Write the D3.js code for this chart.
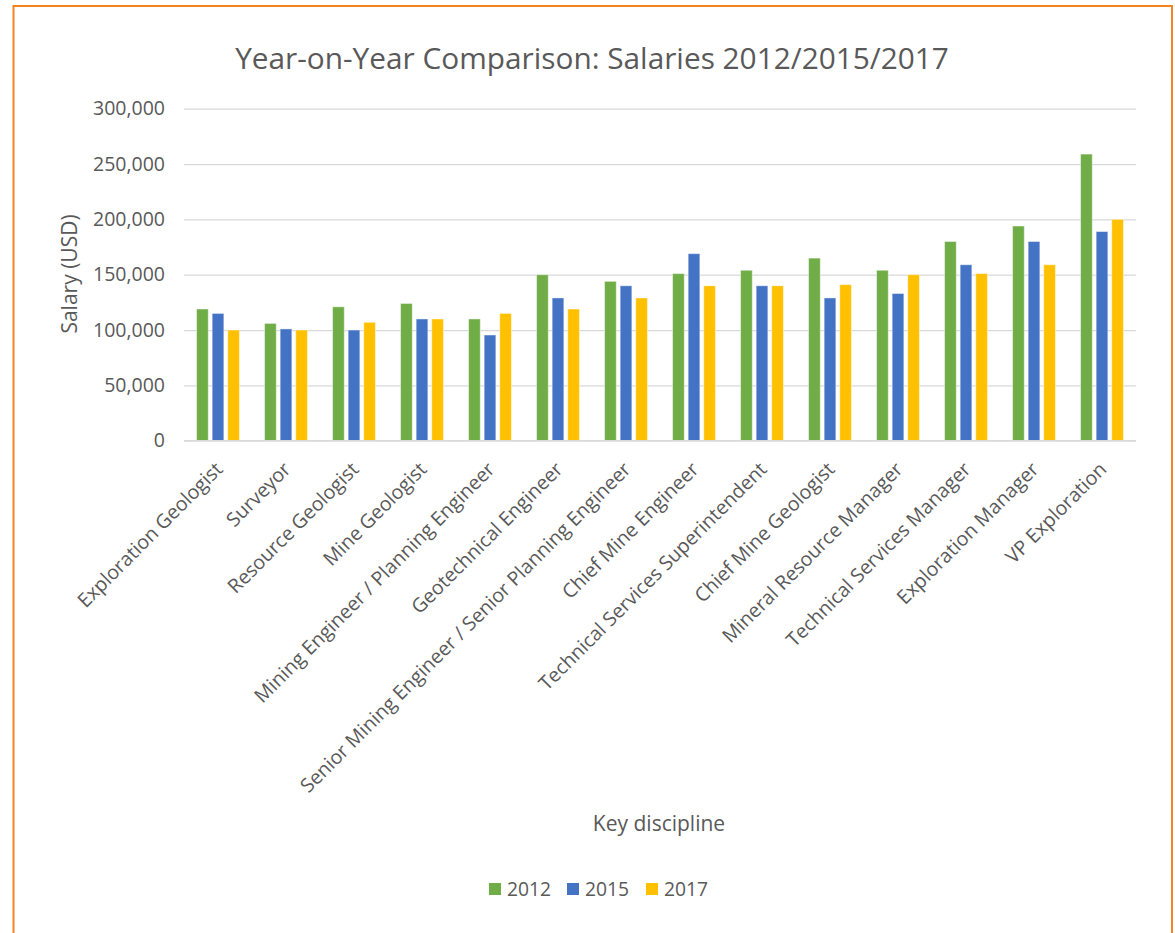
<!DOCTYPE html>
<html>
<head>
<meta charset="utf-8">
<script src="https://cdn.jsdelivr.net/npm/d3@7"></script>
<style>
  html, body { margin: 0; padding: 0; background: #fff; }
  svg { display: block; font-family: "Open Sans", "Noto Sans", sans-serif; }
</style>
</head>
<body>
<svg id="chart" width="1175" height="933"></svg>
<script>
// Key disciplines along the x axis
const categories = [
  "Exploration Geologist", "Surveyor", "Resource Geologist", "Mine Geologist",
  "Mining Engineer / Planning Engineer", "Geotechnical Engineer",
  "Senior Mining Engineer / Senior Planning Engineer", "Chief Mine Engineer",
  "Technical Services Superintendent", "Chief Mine Geologist",
  "Mineral Resource Manager", "Technical Services Manager",
  "Exploration Manager", "VP Exploration"
];

// Salaries (USD) per year
const salaries2012 = [119000, 106000, 121000, 124000, 110000, 150000, 144000, 151000, 154000, 165000, 154000, 180000, 194000, 259000];
const salaries2015 = [115000, 101000, 100000, 110000, 95500, 129000, 140000, 169000, 140000, 129000, 133000, 159000, 180000, 189000];
const salaries2017 = [100000, 100000, 107000, 110000, 115000, 119000, 129000, 140000, 140000, 141000, 150000, 151000, 159000, 200000];

const years = ["2012", "2015", "2017"];
const seriesValues = [salaries2012, salaries2015, salaries2017];
const yTicks = [0, 50000, 100000, 150000, 200000, 250000, 300000];

const colors = { "2012": "#70AD47", "2015": "#4472C4", "2017": "#FFC000" };
const textColor = "#595959";

const svg = d3.select("#chart");

// Outer frame
svg.append("rect")
  .attr("x", 13.5).attr("y", 6).attr("width", 1158.5).attr("height", 940)
  .attr("fill", "none").attr("stroke", "#F5841F").attr("stroke-width", 2);

const plot = { left: 184, right: 1136, top: 108.7, bottom: 440.7 };

const x0 = d3.scaleBand().domain(categories).range([plot.left, plot.right])
  .paddingInner(0.37).paddingOuter(0.185);
const x1 = d3.scaleBand().domain(years).range([0, x0.bandwidth()]).paddingInner(0.25);
const y = d3.scaleLinear().domain([0, 300000]).range([plot.bottom, plot.top]);

// Gridlines and y tick labels
const yAxis = d3.axisLeft(y).tickValues(yTicks).tickSize(-(plot.right - plot.left))
  .tickPadding(19).tickFormat(d3.format(","));
const gy = svg.append("g").attr("transform", `translate(${plot.left},0)`).call(yAxis);
gy.select(".domain").remove();
gy.selectAll(".tick line").attr("stroke", "#D9D9D9").attr("stroke-width", 1.3);
gy.selectAll(".tick text").attr("fill", textColor).attr("font-size", 19.5)
  .attr("font-family", "'Open Sans', sans-serif");

// Bars
const rows = categories.map((c, i) => ({ cat: c, vals: years.map((yr, k) => ({ year: yr, value: seriesValues[k][i] })) }));
const groups = svg.append("g").selectAll("g").data(rows).join("g")
  .attr("transform", d => `translate(${x0(d.cat)},0)`);
groups.selectAll("rect").data(d => d.vals).join("rect")
  .attr("x", d => x1(d.year))
  .attr("y", d => y(d.value))
  .attr("width", x1.bandwidth())
  .attr("height", d => y(0) - y(d.value))
  .attr("fill", d => colors[d.year])
  .attr("stroke", "#ffffff").attr("stroke-opacity", 0.45).attr("stroke-width", 1);

// Category axis baseline
svg.append("line")
  .attr("x1", plot.left).attr("x2", plot.right)
  .attr("y1", plot.bottom).attr("y2", plot.bottom)
  .attr("stroke", "#D9D9D9").attr("stroke-width", 1.3);

// Rotated category labels
svg.append("g").selectAll("text").data(categories).join("text")
  .attr("transform", d => `translate(${x0(d) + x0.bandwidth() / 2 + 1},${plot.bottom + 25}) rotate(-45)`)
  .attr("text-anchor", "end")
  .attr("dy", "0.35em")
  .attr("fill", textColor)
  .attr("font-size", 19.6)
  .text(d => d);

// Title
svg.append("text")
  .attr("x", 592).attr("y", 69)
  .attr("text-anchor", "middle")
  .attr("fill", textColor)
  .attr("font-size", 29.8)
  .text("Year-on-Year Comparison: Salaries 2012/2015/2017");

// Axis titles
svg.append("text")
  .attr("transform", "translate(77,274) rotate(-90)")
  .attr("text-anchor", "middle")
  .attr("fill", textColor)
  .attr("font-size", 21)
  .text("Salary (USD)");

svg.append("text")
  .attr("x", 659).attr("y", 831)
  .attr("text-anchor", "middle")
  .attr("fill", textColor)
  .attr("font-size", 21)
  .text("Key discipline");

// Legend
const legendX = [489, 567, 646];
const legend = svg.append("g").selectAll("g").data(years).join("g")
  .attr("transform", (d, i) => `translate(${legendX[i]},883)`);
legend.append("rect").attr("width", 12).attr("height", 12).attr("fill", d => colors[d]);
legend.append("text").attr("x", 18).attr("y", 6).attr("dy", "0.35em")
  .attr("fill", textColor).attr("font-size", 19.3).text(d => d);
</script>
</body>
</html>
